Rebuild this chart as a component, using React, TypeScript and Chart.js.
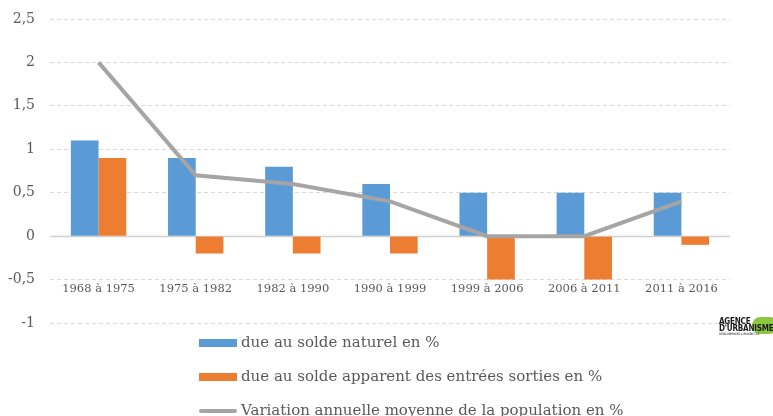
import React, { useEffect, useRef } from 'react';
import { Chart, registerables } from 'chart.js';

Chart.register(...registerables);

const categories = ['1968 à 1975', '1975 à 1982', '1982 à 1990', '1990 à 1999', '1999 à 2006', '2006 à 2011', '2011 à 2016'];
const soldeNaturel = [1.1, 0.9, 0.8, 0.6, 0.5, 0.5, 0.5];
const soldeApparent = [0.9, -0.2, -0.2, -0.2, -0.5, -0.5, -0.1];
const variationAnnuelle = [2, 0.7, 0.6, 0.4, 0, 0, 0.4];
const seriesLabels = [
  'due au solde naturel en %',
  'due au solde apparent des entrées sorties en %',
  'Variation annuelle moyenne de la population en %',
];
const yMin = -1;
const yMax = 2.5;
const yStep = 0.5;
const xAxisAt = -0.5;

const TEXT = '#595959';
const FONT = '"DejaVu Serif", serif';

const zeroLinePlugin = {
  id: 'zeroLine',
  beforeDatasetsDraw(chart: any) {
    const { ctx, chartArea, scales } = chart;
    const y = Math.round(scales.y.getPixelForValue(0)) + 0.5;
    ctx.save();
    ctx.strokeStyle = '#D0D0D0';
    ctx.lineWidth = 1.5;
    ctx.beginPath();
    ctx.moveTo(chartArea.left, y);
    ctx.lineTo(chartArea.right, y);
    ctx.stroke();
    ctx.restore();
  },
};

const legendPlugin = {
  id: 'vertLegend',
  afterDraw(chart: any) {
    const ctx = chart.ctx;
    ctx.save();
    const x0 = 199;
    const y0 = 343;
    const gap = 34;
    chart.data.datasets.forEach((ds: any, i: number) => {
      const y = y0 + i * gap;
      if (ds.type === 'line') {
        ctx.strokeStyle = ds.borderColor;
        ctx.lineWidth = 4;
        ctx.lineCap = 'round';
        ctx.beginPath();
        ctx.moveTo(x0 + 2, y);
        ctx.lineTo(x0 + 36, y);
        ctx.stroke();
      } else {
        ctx.fillStyle = ds.backgroundColor;
        ctx.fillRect(x0, y - 4, 38, 8);
      }
      ctx.fillStyle = TEXT;
      ctx.font = '15px ' + FONT;
      ctx.textBaseline = 'middle';
      ctx.textAlign = 'left';
      ctx.fillText(ds.label, x0 + 42, y);
    });
    ctx.restore();
  },
};

export default function App() {
  const ref = useRef<HTMLCanvasElement | null>(null);
  useEffect(() => {
    if (!ref.current) return;
    const chart = new Chart(ref.current, {
      type: 'bar',
      data: {
        labels: categories,
        datasets: [
          {
            type: 'bar',
            label: seriesLabels[0],
            data: soldeNaturel,
            backgroundColor: '#5B9BD5',
            order: 2,
            categoryPercentage: 0.57,
            barPercentage: 1,
          } as any,
          {
            type: 'bar',
            label: seriesLabels[1],
            data: soldeApparent,
            backgroundColor: '#ED7D31',
            order: 2,
            categoryPercentage: 0.57,
            barPercentage: 1,
          } as any,
          {
            type: 'line',
            label: seriesLabels[2],
            data: variationAnnuelle,
            borderColor: '#A5A5A5',
            backgroundColor: '#A5A5A5',
            borderWidth: 4,
            pointRadius: 0,
            tension: 0,
            order: 1,
          } as any,
        ],
      },
      options: {
        animation: false,
        responsive: true,
        maintainAspectRatio: false,
        layout: { padding: { top: 19, left: 0, right: 43, bottom: 93 } },
        plugins: {
          legend: { display: false },
          tooltip: { enabled: false },
        },
        scales: {
          x: {
            position: { y: xAxisAt } as any,
            grid: { display: false, drawTicks: false },
            border: { display: false },
            ticks: {
              color: TEXT,
              font: { family: FONT, size: 11.5 },
              padding: 3,
              maxRotation: 0,
              autoSkip: false,
            },
          },
          y: {
            min: yMin,
            max: yMax,
            afterFit: (scale: any) => {
              scale.width = 50;
              scale.paddingTop = 0;
              scale.paddingBottom = 0;
            },
            grid: { color: '#D9D9D9', drawTicks: false, lineWidth: 1 },
            border: { display: false, dash: [4, 3] },
            ticks: {
              stepSize: yStep,
              color: TEXT,
              padding: 15,
              font: { family: FONT, size: 14 },
              callback: (v: any) => String(v).replace('.', ','),
            },
          },
        },
      },
      plugins: [zeroLinePlugin, legendPlugin],
    });
    return () => chart.destroy();
  }, []);

  return (
    <div style={{ position: 'fixed', left: 0, top: 0, width: 773, height: 416, background: '#fff', overflow: 'hidden' }}>
      <canvas ref={ref} />
      <div style={{ position: 'absolute', left: 752, top: 317, width: 26, height: 17, borderRadius: 9, background: '#8DC63F' }} />
      <div
        style={{
          position: 'absolute',
          left: 719,
          top: 318,
          fontFamily: '"DejaVu Sans Condensed", "DejaVu Sans", sans-serif',
          fontWeight: 'bold',
          fontSize: 8,
          lineHeight: '7px',
          color: '#1a1a1a',
          whiteSpace: 'nowrap',
          letterSpacing: '-0.2px',
        }}
      >
        <div>AGENCE</div>
        <div>D'URBANISME</div>
        <div style={{ fontSize: 3, lineHeight: '5px', fontWeight: 'normal' }}>DÉVELOPPEMENT &amp; PROSPECTIVE</div>
      </div>
    </div>
  );
}
